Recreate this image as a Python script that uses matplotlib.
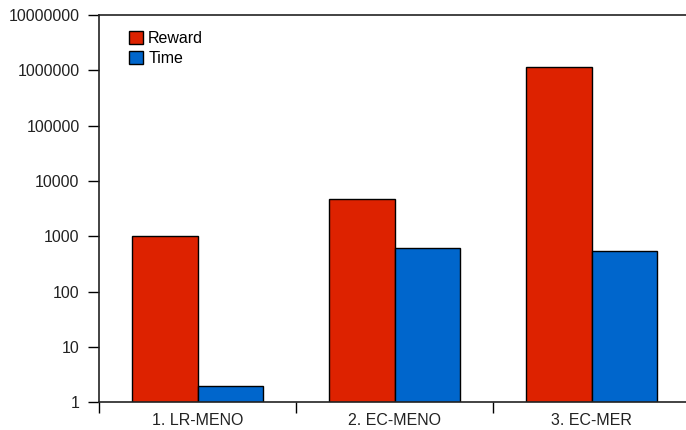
import matplotlib.pyplot as plt
import numpy as np

categories = ["1. LR-MENO", "2. EC-MENO", "3. EC-MER"]
reward = [1000, 4800, 1130000]
time_vals = [2, 610, 545]
ytick_vals = [1, 10, 100, 1000, 10000, 100000, 1000000, 10000000]

plt.rcParams['font.family'] = ['Liberation Sans', 'DejaVu Sans']

fig = plt.figure(figsize=(6.86, 4.30), dpi=100)
W, H = 686, 430
ax = fig.add_axes([99 / W, (H - 402.3) / H, 591 / W, (402.3 - 15) / H])

x = np.arange(len(categories))
width = 0.335
ax.set_yscale('log')
ax.bar(x - width / 2, reward, width, color='#dd2200',
       edgecolor='black', linewidth=1, label='Reward')
ax.bar(x + width / 2, time_vals, width, color='#0066cc',
       edgecolor='black', linewidth=1, label='Time')

ax.set_ylim(1, 10000000)
ax.set_xlim(-0.5, len(categories) - 0.5)
ax.set_yticks(ytick_vals)
ax.set_yticklabels([str(v) for v in ytick_vals])
ax.minorticks_off()
ax.tick_params(axis='y', length=8, width=1, pad=6, labelsize=11.5, labelcolor='#222222')

# category labels centred, tick marks at the category boundaries
ax.set_xticks(x)
ax.set_xticklabels(categories)
ax.tick_params(axis='x', which='major', length=0, pad=8, labelsize=11.5, labelcolor='#222222')
ax.set_xticks(np.arange(len(categories) + 1) - 0.5, minor=True)
ax.tick_params(axis='x', which='minor', length=8, width=1)

ax.spines['right'].set_visible(False)
for s in ['left', 'bottom', 'top']:
    ax.spines[s].set_linewidth(1.2)
    ax.spines[s].set_color('#222222')

ax.legend(loc='upper left', bbox_to_anchor=(0.04, 0.975), frameon=False,
          fontsize=11.5, handlelength=0.9, handleheight=0.9, handletextpad=0.3,
          labelspacing=0.3, borderaxespad=0)

fig.savefig('out.png', dpi=100)
